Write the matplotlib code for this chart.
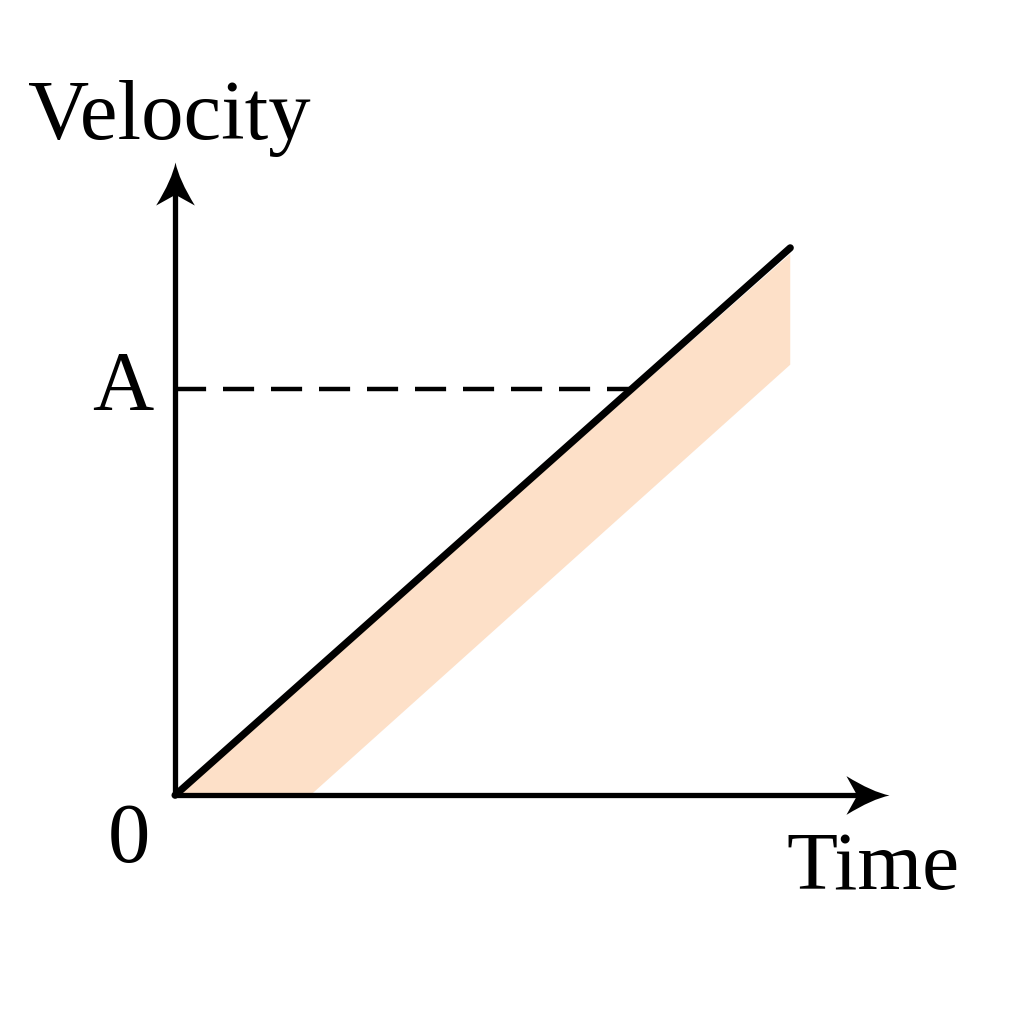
import matplotlib
matplotlib.use('Agg')
from matplotlib import pyplot as plt
from matplotlib.path import Path

# velocity line (data units)
line_t = [0, 10.0]
line_v = [0, 8.9]
# shaded band: upper edge follows the line, lower edge is a shifted copy
band_t = [0, 10.0, 10.0, 2.2]
band_v = [0, 8.8, 7.0, 0]
level_a = 6.6
t_max = 11.6
v_max = 10.3


def stealth(up=False):
    # concave arrow head pointing right (or up)
    pts = [(0, 0), (-0.4, 0.08), (-1.0, 0.45), (-0.75, 0.0),
           (-1.0, -0.45), (-0.4, -0.08), (0, 0), (0, 0)]
    codes = [Path.MOVETO, Path.CURVE3, Path.CURVE3, Path.LINETO,
             Path.LINETO, Path.CURVE3, Path.CURVE3, Path.CLOSEPOLY]
    if up:
        pts = [(-y, x) for x, y in pts]
    return Path(pts, codes)


plt.rcParams['font.family'] = ['Liberation Serif', 'DejaVu Serif']
fig = plt.figure(figsize=(10.24, 10.24), dpi=100)
ax = fig.add_axes([0, 0, 1, 1])
ax.set_xlim(-2.846, 13.80)
ax.set_ylim(-3.72, 12.93)
ax.axis('off')

ax.fill(band_t, band_v, color='#FDE0C8', lw=0, zorder=1)
ax.plot(line_t, line_v, color='black', lw=5.2, solid_capstyle='round', zorder=3)
t_a = level_a * line_t[1] / line_v[1]
ax.plot([0, t_a], [level_a, level_a], color='black', lw=3.2, dashes=(7, 3.8), zorder=2)

ax.plot([0, t_max - 0.3], [0, 0], color='black', lw=3.8, solid_capstyle='round', zorder=4)
ax.plot([0, 0], [0, v_max - 0.3], color='black', lw=3.8, solid_capstyle='round', zorder=4)
ax.plot([t_max], [0], marker=stealth(), markersize=62, color='black', mew=0, zorder=5)
ax.plot([0], [v_max], marker=stealth(up=True), markersize=62, color='black', mew=0, zorder=5)

ax.text(-0.1, 11.0, 'Velocity', fontsize=61, ha='center', va='center')
ax.text(-0.85, level_a, 'A', fontsize=61, ha='center', va='center')
ax.text(-0.75, -0.75, '0', fontsize=61, ha='center', va='center')
ax.text(11.35, -1.2, 'Time', fontsize=60, ha='center', va='center')

fig.savefig('out.png', dpi=100)
